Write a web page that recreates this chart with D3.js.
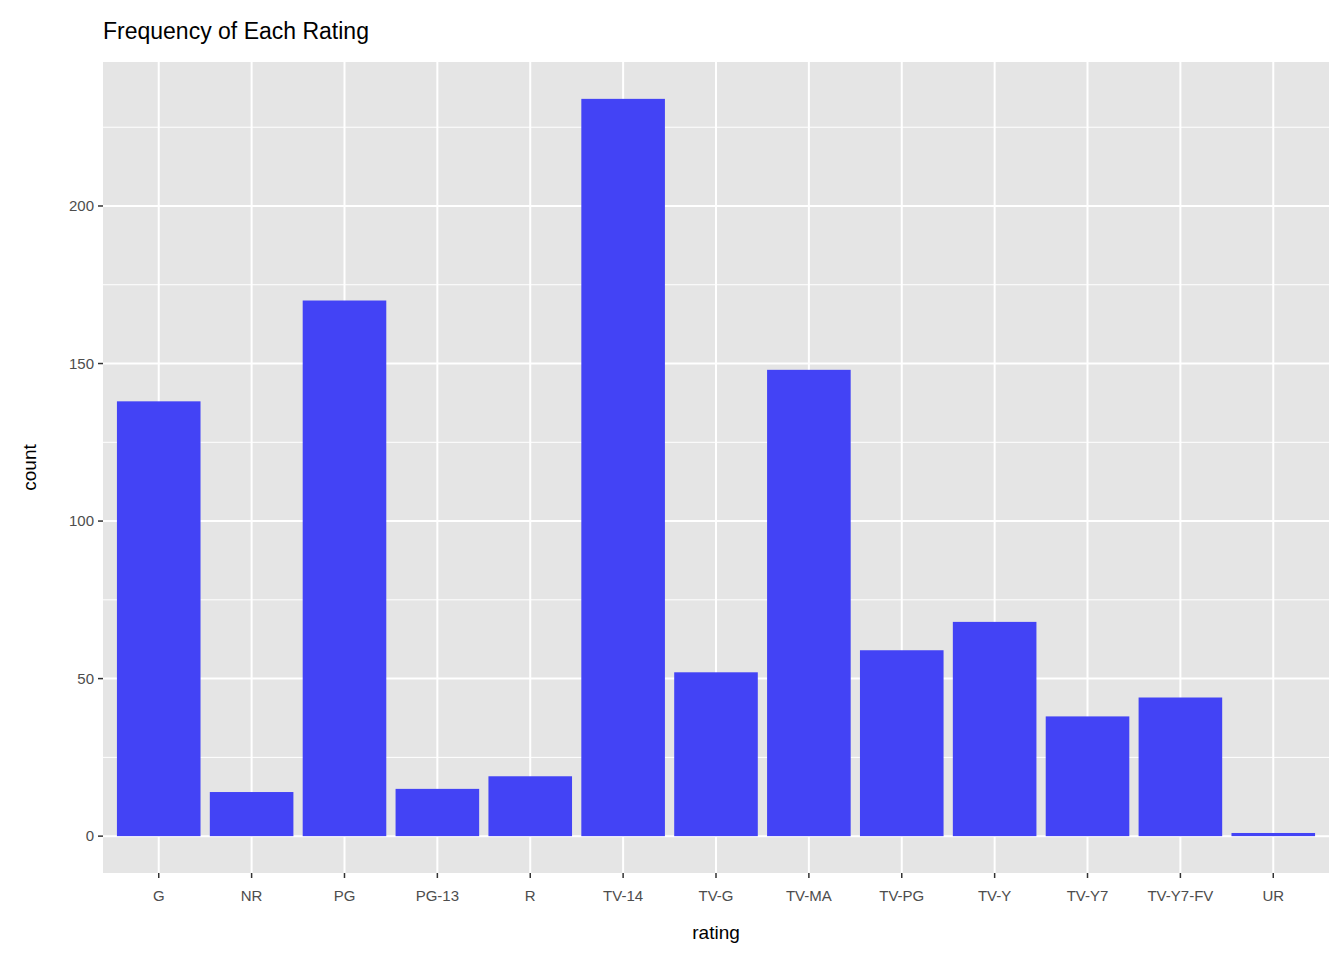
<!DOCTYPE html>
<html><head><meta charset="utf-8">
<script src="https://cdn.jsdelivr.net/npm/d3@7"></script>
<style>body{margin:0;background:#fff}text{font-family:"Liberation Sans",Arial,sans-serif}</style>
</head><body>
<script>
var ratings = ["G","NR","PG","PG-13","R","TV-14","TV-G","TV-MA","TV-PG","TV-Y","TV-Y7","TV-Y7-FV","UR"];
var counts = [138,14,170,15,19,234,52,148,59,68,38,44,1];
var yTicks = [0,50,100,150,200];
var yMinor = [25,75,125,175,225];

var W = 1344, H = 960;
var pLeft = 103, pRight = 1329, pTop = 62, pBottom = 873;

var svg = d3.select("body").append("svg").attr("width", W).attr("height", H);

var x = d3.scaleBand().domain(ratings).range([pLeft, pRight]).paddingInner(0.1).paddingOuter(0.15);
var maxV = d3.max(counts);
var y = d3.scaleLinear().domain([-maxV*0.05, maxV*1.05]).range([pBottom, pTop]);

svg.append("rect").attr("x", pLeft).attr("y", pTop).attr("width", pRight-pLeft).attr("height", pBottom-pTop).attr("fill", "#e5e5e5");

svg.selectAll("line.minor").data(yMinor).enter().append("line")
  .attr("x1", pLeft).attr("x2", pRight).attr("y1", d => y(d)).attr("y2", d => y(d))
  .attr("stroke", "#fff").attr("stroke-width", 1);
svg.selectAll("line.major").data(yTicks).enter().append("line")
  .attr("x1", pLeft).attr("x2", pRight).attr("y1", d => y(d)).attr("y2", d => y(d))
  .attr("stroke", "#fff").attr("stroke-width", 2);
svg.selectAll("line.vx").data(ratings).enter().append("line")
  .attr("y1", pTop).attr("y2", pBottom)
  .attr("x1", d => x(d)+x.bandwidth()/2).attr("x2", d => x(d)+x.bandwidth()/2)
  .attr("stroke", "#fff").attr("stroke-width", 2);

svg.selectAll("rect.bar").data(counts).enter().append("rect")
  .attr("x", (d,i) => x(ratings[i])).attr("width", x.bandwidth())
  .attr("y", d => y(d)).attr("height", d => y(0)-y(d))
  .attr("fill", "#4343f5");

// y ticks
svg.selectAll("line.yt").data(yTicks).enter().append("line")
  .attr("x1", pLeft-5).attr("x2", pLeft).attr("y1", d => y(d)).attr("y2", d => y(d))
  .attr("stroke", "#333").attr("stroke-width", 1.5);
svg.selectAll("text.yl").data(yTicks).enter().append("text")
  .attr("x", pLeft-9).attr("y", d => y(d)+5).attr("text-anchor", "end")
  .attr("font-size", 15).attr("fill", "#4d4d4d").text(d => d);

// x ticks
svg.selectAll("line.xt").data(ratings).enter().append("line")
  .attr("y1", pBottom).attr("y2", pBottom+5)
  .attr("x1", d => x(d)+x.bandwidth()/2).attr("x2", d => x(d)+x.bandwidth()/2)
  .attr("stroke", "#333").attr("stroke-width", 1.5);
svg.selectAll("text.xl").data(ratings).enter().append("text")
  .attr("x", d => x(d)+x.bandwidth()/2).attr("y", pBottom+28).attr("text-anchor", "middle")
  .attr("font-size", 15).attr("fill", "#4d4d4d").text(d => d);

svg.append("text").attr("x", (pLeft+pRight)/2).attr("y", 939).attr("text-anchor", "middle")
  .attr("font-size", 19).attr("fill", "#000").text("rating");
svg.append("text").attr("transform", "translate(36," + ((pTop+pBottom)/2) + ") rotate(-90)")
  .attr("text-anchor", "middle").attr("font-size", 19).attr("fill", "#000").text("count");
svg.append("text").attr("x", pLeft).attr("y", 39).attr("font-size", 23).attr("fill", "#000")
  .text("Frequency of Each Rating");
</script>
</body></html>
